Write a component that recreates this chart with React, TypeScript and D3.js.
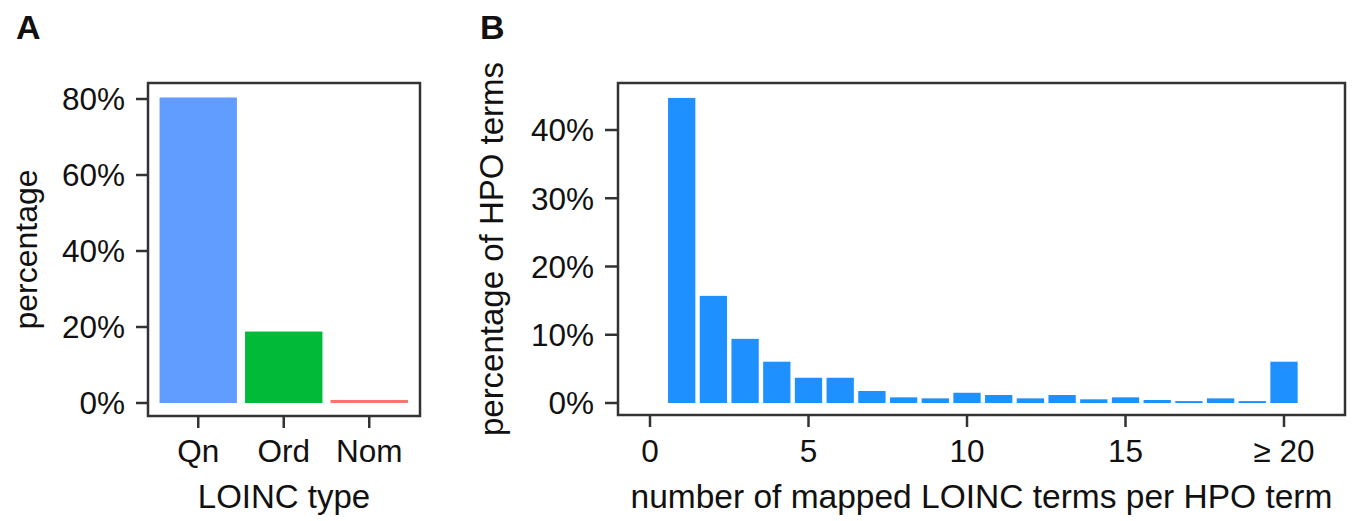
import React from "react";
import * as d3 from "d3";

// Panel A data
const loincTypes = ["Qn", "Ord", "Nom"];
const loincPercent = [80.4, 18.8, 0.8];
const loincColors = ["#619CFF", "#00BA38", "#F8766D"];
const yTicksA = [0, 20, 40, 60, 80];

// Panel B data (bins 1..20, last bin is ">= 20")
const mappedCounts = [1, 2, 3, 4, 5, 6, 7, 8, 9, 10, 11, 12, 13, 14, 15, 16, 17, 18, 19, 20];
const hpoPercent = [44.7, 15.7, 9.4, 6.05, 3.7, 3.7, 1.76, 0.83, 0.68, 1.5, 1.17, 0.68, 1.17, 0.54, 0.83, 0.44, 0.28, 0.68, 0.28, 6.05];
const xTicksB = [0, 5, 10, 15, 20];
const xTickLabelsB = ["0", "5", "10", "15", "\u2265 20"];
const yTicksB = [0, 10, 20, 30, 40];

const FONT = "'Liberation Sans', Arial, Helvetica, sans-serif";
const TXT = "#111";
const AXC = "#333";

export default function App() {
  // Panel A geometry
  const boxA = { x0: 148, x1: 420, y0: 83, y1: 416 };
  const xA = d3.scaleBand<string>().domain(loincTypes).range([155.5, 412]).paddingInner(0.095).paddingOuter(0.0475);
  const yA = d3.scaleLinear().domain([0, 80]).range([403, 99]);

  // Panel B geometry
  const boxB = { x0: 618, x1: 1345, y0: 83, y1: 415 };
  const xB = d3.scaleLinear().domain([0, 20]).range([650, 1284]);
  const yB = d3.scaleLinear().domain([0, 40]).range([403, 130]);
  const step = xB(1) - xB(0);

  return (
    <svg width={1355} height={521} style={{ position: "absolute", left: 0, top: 0, background: "#fff" }} fontFamily={FONT}>
      <rect x={0} y={0} width={1355} height={521} fill="#fff" />
      {/* Panel labels */}
      <text x={16} y={39} fontSize={34} fontWeight="bold" fill={TXT}>A</text>
      <text x={480} y={39} fontSize={34} fontWeight="bold" fill={TXT}>B</text>

      {/* ---------- Panel A ---------- */}
      {loincTypes.map((c, i) => (
        <rect key={c} x={xA(c)!} y={yA(loincPercent[i])} width={xA.bandwidth()} height={yA(0) - yA(loincPercent[i])} fill={loincColors[i]} />
      ))}
      <rect x={boxA.x0} y={boxA.y0} width={boxA.x1 - boxA.x0} height={boxA.y1 - boxA.y0} fill="none" stroke={AXC} strokeWidth={2.5} />
      {yTicksA.map((t) => (
        <g key={t}>
          <line x1={136} x2={boxA.x0} y1={yA(t)} y2={yA(t)} stroke={AXC} strokeWidth={2.5} />
          <text x={125} y={yA(t)} dy="0.36em" textAnchor="end" fontSize={31.5} fill={TXT}>{t + "%"}</text>
        </g>
      ))}
      {loincTypes.map((c) => {
        const cx = xA(c)! + xA.bandwidth() / 2;
        return (
          <g key={c}>
            <line x1={cx} x2={cx} y1={boxA.y1} y2={boxA.y1 + 12} stroke={AXC} strokeWidth={2.5} />
            <text x={cx} y={462} textAnchor="middle" fontSize={31.5} fill={TXT}>{c}</text>
          </g>
        );
      })}
      <text x={(boxA.x0 + boxA.x1) / 2} y={508} textAnchor="middle" fontSize={33} fill={TXT}>LOINC type</text>
      <text transform={`translate(37, ${(boxA.y0 + boxA.y1) / 2}) rotate(-90)`} textAnchor="middle" fontSize={32} fill={TXT}>percentage</text>

      {/* ---------- Panel B ---------- */}
      {mappedCounts.map((m, i) => (
        <rect key={m} x={xB(m - 0.5) + 2.2} y={yB(hpoPercent[i])} width={step - 4.4} height={yB(0) - yB(hpoPercent[i])} fill="#1E90FF" />
      ))}
      <rect x={boxB.x0} y={boxB.y0} width={boxB.x1 - boxB.x0} height={boxB.y1 - boxB.y0} fill="none" stroke={AXC} strokeWidth={2.5} />
      {yTicksB.map((t) => (
        <g key={t}>
          <line x1={605} x2={boxB.x0} y1={yB(t)} y2={yB(t)} stroke={AXC} strokeWidth={2.5} />
          <text x={594} y={yB(t)} dy="0.36em" textAnchor="end" fontSize={31.5} fill={TXT}>{t + "%"}</text>
        </g>
      ))}
      {xTicksB.map((t, i) => (
        <g key={t}>
          <line x1={xB(t)} x2={xB(t)} y1={boxB.y1} y2={boxB.y1 + 12} stroke={AXC} strokeWidth={2.5} />
          <text x={xB(t)} y={462} textAnchor="middle" fontSize={31.5} fill={TXT}>{xTickLabelsB[i]}</text>
        </g>
      ))}
      <text x={(boxB.x0 + boxB.x1) / 2} y={508} textAnchor="middle" fontSize={33.5} fill={TXT}>number of mapped LOINC terms per HPO term</text>
      <text transform={`translate(503, ${(boxB.y0 + boxB.y1) / 2}) rotate(-90)`} textAnchor="middle" fontSize={33} fill={TXT}>percentage of HPO terms</text>
    </svg>
  );
}
